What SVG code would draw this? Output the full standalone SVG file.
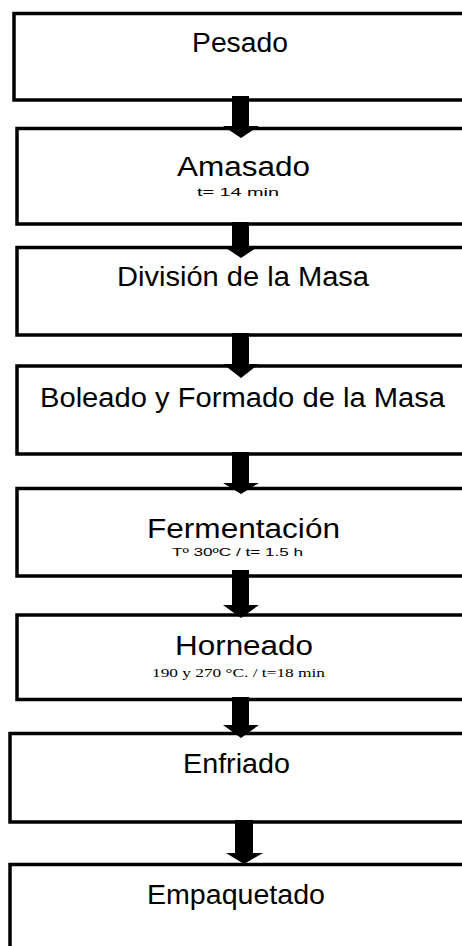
<svg xmlns="http://www.w3.org/2000/svg" width="462" height="946" viewBox="0 0 462 946">
<style>
.box{fill:#fff;stroke:#000;stroke-width:3.5}
.arr{fill:#000;stroke:none}
.t{font-family:"Liberation Sans",Arial,sans-serif;fill:#000;text-anchor:middle}
.big{font-size:27px}
.sm{font-size:11.5px}
.serif{font-family:"Liberation Serif","Times New Roman",serif;font-size:13px;fill:#000;text-anchor:middle}
</style>
<rect width="462" height="946" fill="#fff"/>
<g id="n1"><rect class="box" x="14" y="13.5" width="460" height="86.5"/><text class="t big" x="240" y="52" textLength="96" lengthAdjust="spacingAndGlyphs">Pesado</text></g>
<g id="n2"><rect class="box" x="17" y="128.5" width="460" height="95.5"/><text class="t big" x="243.5" y="176" textLength="133" lengthAdjust="spacingAndGlyphs">Amasado</text><text class="t sm" x="238" y="195.5" textLength="82" lengthAdjust="spacingAndGlyphs">t= 14 min</text></g>
<g id="n3"><rect class="box" x="17" y="247.5" width="460" height="87.5"/><text class="t big" x="243" y="286" textLength="252" lengthAdjust="spacingAndGlyphs">División de la Masa</text></g>
<g id="n4"><rect class="box" x="17" y="366" width="460" height="88"/><text class="t big" x="242.5" y="407" textLength="405" lengthAdjust="spacingAndGlyphs">Boleado y Formado de la Masa</text></g>
<g id="n5"><rect class="box" x="17" y="488.5" width="460" height="87.5"/><text class="t big" x="243.5" y="537.5" textLength="193" lengthAdjust="spacingAndGlyphs">Fermentación</text><text class="t sm" x="237.5" y="556" textLength="131" lengthAdjust="spacingAndGlyphs">Tº 30ºC / t= 1.5 h</text></g>
<g id="n6"><rect class="box" x="17" y="615" width="460" height="84.5"/><text class="t big" x="244" y="655" textLength="138" lengthAdjust="spacingAndGlyphs">Horneado</text><text class="serif" x="238.5" y="677" textLength="173" lengthAdjust="spacingAndGlyphs">190 y 270 °C. / t=18 min</text></g>
<g id="n7"><rect class="box" x="10" y="733.5" width="460" height="88.5"/><text class="t big" x="236.5" y="773" textLength="107" lengthAdjust="spacingAndGlyphs">Enfriado</text></g>
<g id="n8"><rect class="box" x="10" y="864.5" width="460" height="100"/><text class="t big" x="236" y="904" textLength="178" lengthAdjust="spacingAndGlyphs">Empaquetado</text></g>
<g id="connectors">
<polygon class="arr" points="232,96 249,96 249,126 259,126 241,138 223,126 232,126"/>
<polygon class="arr" points="232,222 249,222 249,246 259,246 241,258 223,246 232,246"/>
<polygon class="arr" points="232,333 249,333 249,364 259,364 241,378 223,364 232,364"/>
<polygon class="arr" points="232,452 249,452 249,483 259,483 241,494 223,483 232,483"/>
<polygon class="arr" points="232,570 249,570 249,605 259,605 241,618 223,605 232,605"/>
<polygon class="arr" points="232,697 249,697 249,725 259,725 241,738 223,725 232,725"/>
<polygon class="arr" points="235,820 253,820 253,853 263,853 244,864 226,853 235,853"/>
</g>
</svg>
